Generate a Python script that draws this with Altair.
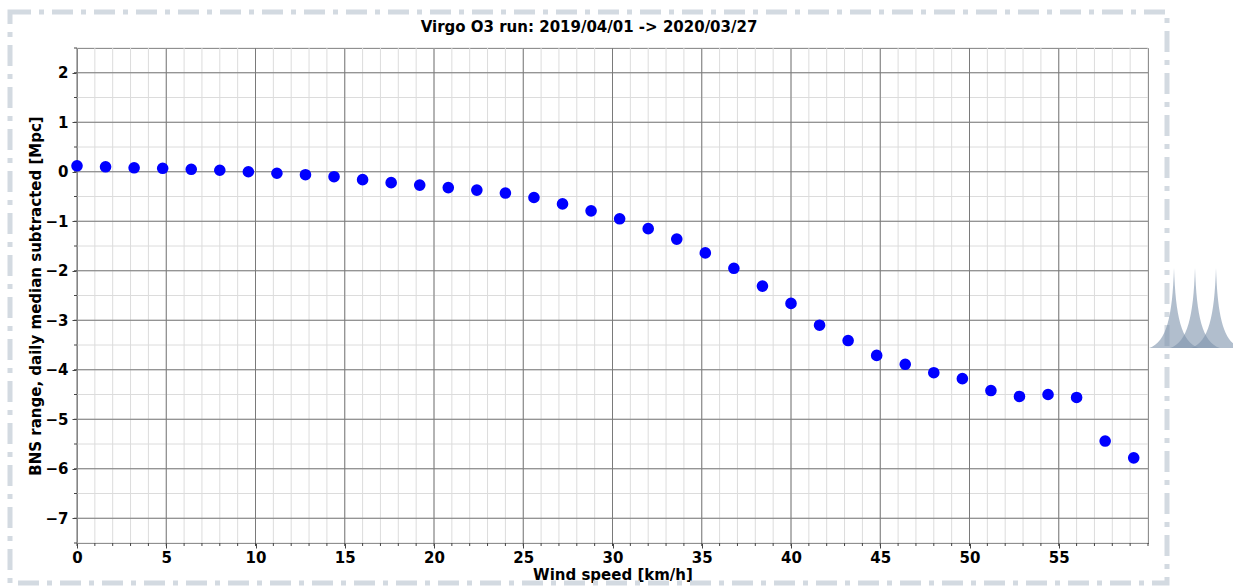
import altair as alt
import pandas as pd

# Wind-speed bins [km/h] and BNS range offset from the daily median [Mpc]
wind_speed = [0.0, 1.6, 3.2, 4.8, 6.4, 8.0, 9.6, 11.2, 12.8, 14.4, 16.0, 17.6, 19.2,
              20.8, 22.4, 24.0, 25.6, 27.2, 28.8, 30.4, 32.0, 33.6, 35.2, 36.8, 38.4,
              40.0, 41.6, 43.2, 44.8, 46.4, 48.0, 49.6, 51.2, 52.8, 54.4, 56.0, 57.6, 59.2]
bns_range = [0.12, 0.10, 0.08, 0.07, 0.05, 0.03, 0.00, -0.03, -0.06, -0.10, -0.16, -0.22,
             -0.27, -0.32, -0.37, -0.43, -0.52, -0.65, -0.79, -0.95, -1.15, -1.36, -1.64,
             -1.95, -2.31, -2.66, -3.10, -3.41, -3.71, -3.89, -4.06, -4.18, -4.42, -4.54,
             -4.50, -4.56, -5.44, -5.78]

x_major = [0, 5, 10, 15, 20, 25, 30, 35, 40, 45, 50, 55]
x_minor = list(range(0, 61))
y_major = [-7, -6, -5, -4, -3, -2, -1, 0, 1, 2]
y_minor = [v / 2 for v in range(-15, 6)]

TITLE = "Virgo O3 run: 2019/04/01 -> 2020/03/27"
X_TITLE = "Wind speed [km/h]"
Y_TITLE = "BNS range, daily median subtracted [Mpc]"

X_DOMAIN = [0, 60]
Y_DOMAIN = [-7.5, 2.5]
W, H = 1071, 495
FONT = "DejaVu Sans"

points = pd.DataFrame({"wind": wind_speed, "range": bns_range})
xs = alt.Scale(domain=X_DOMAIN, nice=False, zero=False)
ys = alt.Scale(domain=Y_DOMAIN, nice=False, zero=False)
xa = alt.Axis(title=X_TITLE, values=x_major, grid=False, tickSize=5, tickColor="#444",
              labelPadding=2, titlePadding=2, domain=False, labelFlush=False)
ya = alt.Axis(title=Y_TITLE, values=y_major, grid=False, tickSize=5, tickColor="#444",
              labelPadding=4, titlePadding=1, domain=False, labelFlush=False)


def vrules(values, color, width, y0=0, y1=H):
    return alt.Chart(pd.DataFrame({"v": values})).mark_rule(
        color=color, strokeWidth=width
    ).encode(x=alt.X("v:Q", scale=xs, axis=xa), y=alt.value(y0), y2=alt.value(y1))


def hrules(values, color, width, x0=0, x1=W):
    return alt.Chart(pd.DataFrame({"v": values})).mark_rule(
        color=color, strokeWidth=width
    ).encode(y=alt.Y("v:Q", scale=ys, axis=ya), x=alt.value(x0), x2=alt.value(x1))


grid = alt.layer(
    vrules(x_minor, "#dcdcdc", 1),
    hrules(y_minor, "#dcdcdc", 1),
    vrules(x_major, "#7a7a7a", 1),
    hrules(y_major, "#7a7a7a", 1),
    # minor tick marks along the axes
    vrules(x_minor, "#444", 1, H, H + 3),
    hrules(y_minor, "#444", 1, -3, 0),
)

scatter = alt.Chart(points).mark_circle(size=135, color="#0000ff", opacity=1).encode(
    x=alt.X("wind:Q", scale=xs, axis=xa),
    y=alt.Y("range:Q", scale=ys, axis=ya),
)

title = alt.Chart(pd.DataFrame({"t": [TITLE]})).mark_text(
    font=FONT, fontSize=15, fontWeight="bold", color="black", baseline="middle"
).encode(text="t:N", x=alt.value(512), y=alt.value(-21))

# dash-dot frame around the figure
frame = alt.Chart(pd.DataFrame({"k": [0]})).mark_rect(
    fill=None, stroke="#d3dae1", strokeWidth=5, strokeDash=[21, 8, 5, 8], clip=False
).encode(x=alt.value(-67), x2=alt.value(1090), y=alt.value(-36), y2=alt.value(535))

# Virgo logo: three overlapping cusps
cusp = "M 0 -1 C 0.04 0.2 0.18 0.85 0.62 1 L -0.62 1 C -0.18 0.85 -0.04 0.2 0 -1 Z"
logo = alt.Chart(pd.DataFrame({"px": [1097, 1118, 1139]})).mark_point(
    shape=cusp, filled=True, size=6400, color="#7d93ab", opacity=0.6, clip=False
).encode(x=alt.X("px:Q", scale=None), y=alt.value(260))

chart = alt.layer(grid, scatter, title, frame, logo).properties(
    width=W, height=H,
    autosize=alt.AutoSizeParams(type="none"),
    padding={"left": 77, "top": 48, "right": 85, "bottom": 43},
).configure(background="white").configure_view(
    stroke="#444", strokeWidth=1
).configure_axis(
    labelFont=FONT, labelFontSize=15, labelFontWeight="bold", labelColor="black",
    titleFont=FONT, titleFontSize=15, titleFontWeight="bold", titleColor="black",
)

chart.save("out.html", embed_options={"renderer": "svg", "actions": False})
